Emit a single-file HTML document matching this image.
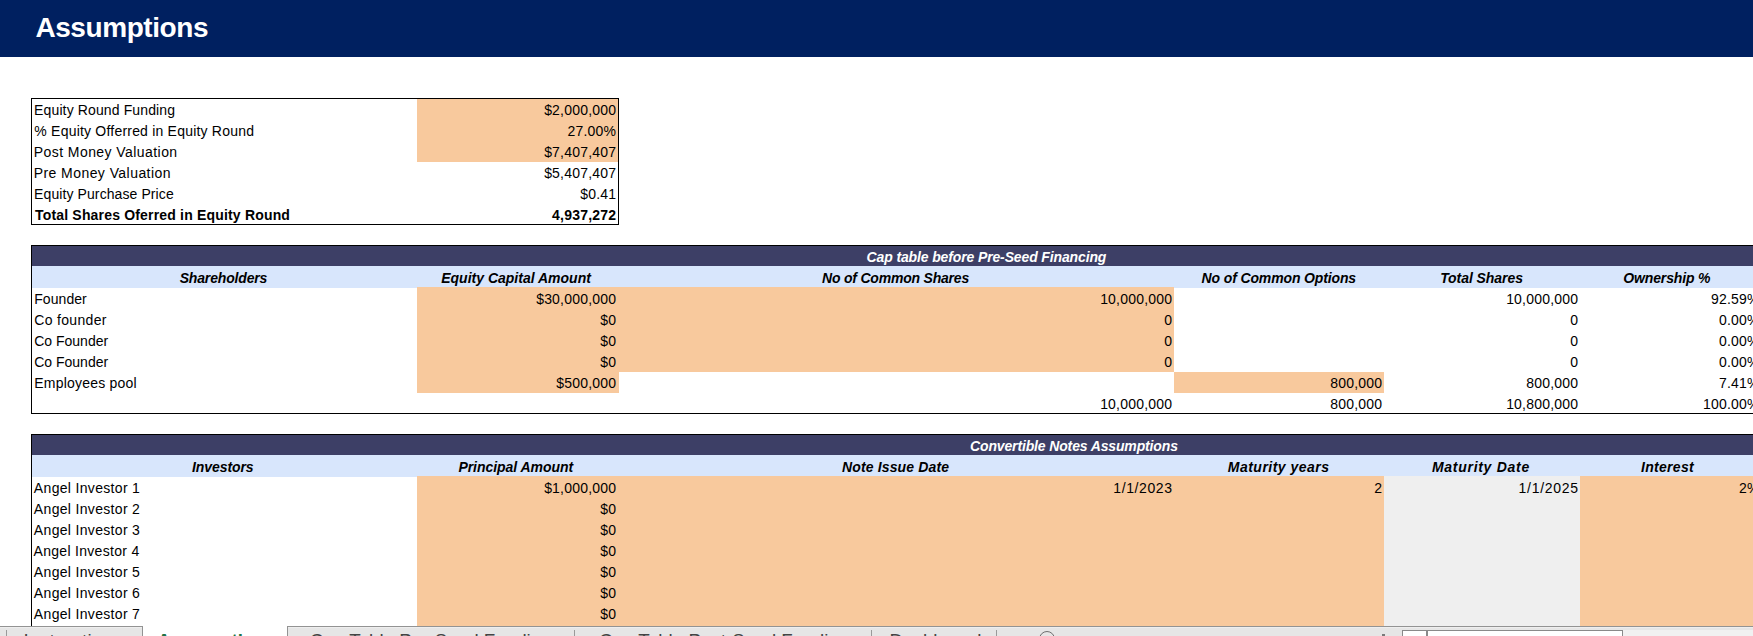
<!DOCTYPE html>
<html><head><meta charset="utf-8"><title>Assumptions</title>
<style>
html,body{margin:0;padding:0;}
body{width:1753px;height:636px;overflow:hidden;position:relative;background:#fff;font-family:"Liberation Sans",sans-serif;color:#000;}
.r{position:absolute;}
.t{position:absolute;font-size:14px;line-height:21px;white-space:nowrap;}
.tr{text-align:right;letter-spacing:0.2px;}
.b{font-weight:bold;}
.bi{font-weight:bold;font-style:italic;}
.w{color:#fff;}
.bx{position:absolute;border:1px solid #000;}
.bl{position:absolute;border-left:1px solid #000;border-top:1px solid #000;}
#hdr{position:absolute;left:0;top:0;width:1753px;height:57px;background:#002060;}
#title{position:absolute;top:10px;font-size:28px;line-height:36px;font-weight:bold;color:#fff;white-space:nowrap;}
#tabs{position:absolute;left:0;top:626px;width:1753px;height:10px;background:#E6E6E6;overflow:hidden;}
.sep{position:absolute;top:4px;width:1px;height:12px;background:#9A9A9A;}
.tt{position:absolute;top:4px;font-size:18.8px;line-height:21px;color:#444;white-space:nowrap;}
.act{color:#217346;font-weight:bold;}
</style></head><body>
<div id="hdr"><div id="title" style="left:35.39px;letter-spacing:-0.420px">Assumptions</div></div>
<div class="r" style="left:417px;top:99px;width:202px;height:63px;background:#F8C99D"></div>
<div id="t0" class="t " style="left:34.10px;top:100px;letter-spacing:0.126px">Equity Round Funding</div>
<div class="t tr " style="right:1136.80px;top:100px">$2,000,000</div>
<div id="t1" class="t " style="left:34.36px;top:121px;letter-spacing:0.207px">% Equity Offerred in Equity Round</div>
<div class="t tr " style="right:1136.80px;top:121px">27.00%</div>
<div id="t2" class="t " style="left:33.75px;top:142px;letter-spacing:0.434px">Post Money Valuation</div>
<div class="t tr " style="right:1136.80px;top:142px">$7,407,407</div>
<div id="t3" class="t " style="left:33.64px;top:163px;letter-spacing:0.442px">Pre Money Valuation</div>
<div class="t tr " style="right:1136.80px;top:163px">$5,407,407</div>
<div id="t4" class="t " style="left:34.12px;top:184px;letter-spacing:0.093px">Equity Purchase Price</div>
<div class="t tr " style="right:1136.80px;top:184px">$0.41</div>
<div id="t5" class="t b" style="left:35.00px;top:205px;letter-spacing:0.179px">Total Shares Oferred in Equity Round</div>
<div class="t tr b" style="right:1136.80px;top:205px">4,937,272</div>
<div class="bx" style="left:31px;top:98px;width:586px;height:125px"></div>
<div class="r" style="left:31px;top:246px;width:1729px;height:20px;background:#3D3F66"></div>
<div class="r" style="left:31px;top:266px;width:1729px;height:22px;background:#D8E6FC"></div>
<div id="t6" class="t bi w" style="left:866.61px;top:247px;letter-spacing:-0.132px">Cap table before Pre-Seed Financing</div>
<div id="t7" class="t bi" style="left:179.70px;top:268px;letter-spacing:-0.167px">Shareholders</div>
<div id="t8" class="t bi" style="left:441.18px;top:268px;letter-spacing:0.005px">Equity Capital Amount</div>
<div id="t9" class="t bi" style="left:822.00px;top:268px;letter-spacing:-0.206px">No of Common Shares</div>
<div id="t10" class="t bi" style="left:1201.57px;top:268px;letter-spacing:-0.132px">No of Common Options</div>
<div id="t11" class="t bi" style="left:1440.17px;top:268px;letter-spacing:-0.064px">Total Shares</div>
<div id="t12" class="t bi" style="left:1623.29px;top:268px;letter-spacing:-0.140px">Ownership %</div>
<div class="r" style="left:417px;top:287px;width:202px;height:106px;background:#F8C99D"></div>
<div class="r" style="left:619px;top:287px;width:555px;height:85px;background:#F8C99D"></div>
<div class="r" style="left:1174px;top:372px;width:210px;height:21px;background:#F8C99D"></div>
<div id="t13" class="t " style="left:34.28px;top:289px;letter-spacing:0.050px">Founder</div>
<div class="t tr " style="right:1136.80px;top:289px">$30,000,000</div>
<div class="t tr " style="right:580.80px;top:289px">10,000,000</div>
<div class="t tr " style="right:174.80px;top:289px">10,000,000</div>
<div class="t tr " style="right:-6.70px;top:289px">92.59%</div>
<div id="t14" class="t " style="left:34.28px;top:310px;letter-spacing:0.322px">Co founder</div>
<div class="t tr " style="right:1136.80px;top:310px">$0</div>
<div class="t tr " style="right:580.80px;top:310px">0</div>
<div class="t tr " style="right:174.80px;top:310px">0</div>
<div class="t tr " style="right:-6.70px;top:310px">0.00%</div>
<div id="t15" class="t " style="left:34.28px;top:331px;letter-spacing:-0.011px">Co Founder</div>
<div class="t tr " style="right:1136.80px;top:331px">$0</div>
<div class="t tr " style="right:580.80px;top:331px">0</div>
<div class="t tr " style="right:174.80px;top:331px">0</div>
<div class="t tr " style="right:-6.70px;top:331px">0.00%</div>
<div id="t16" class="t " style="left:34.28px;top:352px;letter-spacing:-0.011px">Co Founder</div>
<div class="t tr " style="right:1136.80px;top:352px">$0</div>
<div class="t tr " style="right:580.80px;top:352px">0</div>
<div class="t tr " style="right:174.80px;top:352px">0</div>
<div class="t tr " style="right:-6.70px;top:352px">0.00%</div>
<div id="t17" class="t " style="left:34.28px;top:373px;letter-spacing:0.215px">Employees pool</div>
<div class="t tr " style="right:1136.80px;top:373px">$500,000</div>
<div class="t tr " style="right:370.80px;top:373px">800,000</div>
<div class="t tr " style="right:174.80px;top:373px">800,000</div>
<div class="t tr " style="right:-6.70px;top:373px">7.41%</div>
<div class="t tr " style="right:580.80px;top:394px">10,000,000</div>
<div class="t tr " style="right:370.80px;top:394px">800,000</div>
<div class="t tr " style="right:174.80px;top:394px">10,800,000</div>
<div class="t tr " style="right:-6.70px;top:394px">100.00%</div>
<div class="bx" style="left:31px;top:245px;width:1800px;height:167px"></div>
<div class="r" style="left:31px;top:435px;width:1729px;height:20px;background:#3D3F66"></div>
<div class="r" style="left:31px;top:455px;width:1729px;height:22px;background:#D8E6FC"></div>
<div id="t18" class="t bi w" style="left:970.00px;top:436px;letter-spacing:-0.139px">Convertible Notes Assumptions</div>
<div id="t19" class="t bi" style="left:192.00px;top:457px;letter-spacing:-0.075px">Investors</div>
<div id="t20" class="t bi" style="left:458.38px;top:457px;letter-spacing:-0.033px">Principal Amount</div>
<div id="t21" class="t bi" style="left:842.00px;top:457px;letter-spacing:0.143px">Note Issue Date</div>
<div id="t22" class="t bi" style="left:1227.78px;top:457px;letter-spacing:0.492px">Maturity years</div>
<div id="t23" class="t bi" style="left:1432.00px;top:457px;letter-spacing:0.708px">Maturity Date</div>
<div id="t24" class="t bi" style="left:1641.00px;top:457px;letter-spacing:0.300px">Interest</div>
<div class="r" style="left:417px;top:476px;width:967px;height:164px;background:#F8C99D"></div>
<div class="r" style="left:1384px;top:476px;width:196px;height:164px;background:#EFEFEF"></div>
<div class="r" style="left:1580px;top:476px;width:180px;height:164px;background:#F8C99D"></div>
<div id="t25" class="t " style="left:33.86px;top:478px;letter-spacing:0.323px">Angel Investor 1</div>
<div class="t tr " style="right:1136.80px;top:478px">$1,000,000</div>
<div id="t26" class="t " style="left:33.86px;top:499px;letter-spacing:0.323px">Angel Investor 2</div>
<div class="t tr " style="right:1136.80px;top:499px">$0</div>
<div id="t27" class="t " style="left:33.86px;top:520px;letter-spacing:0.323px">Angel Investor 3</div>
<div class="t tr " style="right:1136.80px;top:520px">$0</div>
<div id="t28" class="t " style="left:33.50px;top:541px;letter-spacing:0.300px">Angel Investor 4</div>
<div class="t tr " style="right:1136.80px;top:541px">$0</div>
<div id="t29" class="t " style="left:33.86px;top:562px;letter-spacing:0.323px">Angel Investor 5</div>
<div class="t tr " style="right:1136.80px;top:562px">$0</div>
<div id="t30" class="t " style="left:33.86px;top:583px;letter-spacing:0.323px">Angel Investor 6</div>
<div class="t tr " style="right:1136.80px;top:583px">$0</div>
<div id="t31" class="t " style="left:33.86px;top:604px;letter-spacing:0.323px">Angel Investor 7</div>
<div class="t tr " style="right:1136.80px;top:604px">$0</div>
<div class="t tr " style="right:580.40px;top:478px;letter-spacing:0.6px">1/1/2023</div>
<div class="t tr " style="right:370.80px;top:478px">2</div>
<div class="t tr " style="right:174.30px;top:478px;letter-spacing:0.7px">1/1/2025</div>
<div class="t tr " style="right:-6.70px;top:478px">2%</div>
<div class="bl" style="left:31px;top:434px;width:1800px;height:300px"></div>
<div id="tabs">
<div style="position:absolute;left:0;top:0;width:1753px;height:1px;background:#939393"></div>
<div style="position:absolute;left:0;top:1px;width:1753px;height:1px;background:#EEEEEE"></div>
<div style="position:absolute;left:142px;top:0;width:144px;height:12px;background:#fff;border-left:1px solid #939393;border-right:1px solid #939393"></div>
<div class="sep" style="left:6px"></div>
<div class="sep" style="left:574px"></div>
<div class="sep" style="left:871px"></div>
<div class="sep" style="left:996px"></div>
<div class="tt" style="left:23.5px;letter-spacing:0.3px">Instructions</div>
<div class="tt act" style="left:157.3px">Assumptions</div>
<div class="tt" style="left:309.8px">Cap Table Pre-Seed Funding</div>
<div class="tt" style="left:599px">Cap Table Post-Seed Funding</div>
<div class="tt" style="left:889.5px">Dashboard</div>
<div style="position:absolute;left:1039px;top:5px;width:14px;height:14px;border:1.4px solid #6F6F6F;border-radius:50%"></div>
<div style="position:absolute;left:1382px;top:8px;width:3px;height:3px;background:#7A7A7A"></div>
<div style="position:absolute;left:1623px;top:4px;width:200px;height:10px;background:#F1F1F1"></div>
<div style="position:absolute;left:1402px;top:4px;width:23px;height:10px;background:#fff;border:1px solid #8A8A8A;border-right:2px solid #8A8A8A"></div>
<div style="position:absolute;left:1427px;top:4px;width:194px;height:10px;background:#fff;border:1px solid #8A8A8A"></div>
</div>
</body></html>
